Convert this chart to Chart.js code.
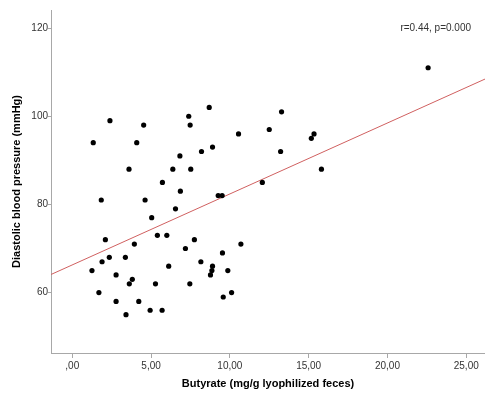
<!DOCTYPE html>
<html>
<head>
<meta charset="utf-8">
<script src="https://cdn.jsdelivr.net/npm/chart.js@4.4.1/dist/chart.umd.min.js"></script>
<style>
  html, body { margin: 0; padding: 0; background: #fff; }
  #wrap { width: 485px; height: 394px; }
</style>
</head>
<body>
<div id="wrap"><canvas id="c" width="485" height="394"></canvas></div>
<script>
// Butyrate (mg/g lyophilized feces) per subject
const butyrate = [
  1.25, 1.33, 1.69, 1.84, 1.89, 2.10, 2.35, 2.39, 2.78, 2.78,
  3.37, 3.41, 3.60, 3.62, 3.81, 3.94, 4.09, 4.22, 4.53, 4.62,
  4.94, 5.04, 5.28, 5.40, 5.70, 5.72, 6.00, 6.12, 6.38, 6.55,
  6.83, 6.86, 7.18, 7.39, 7.46, 7.48, 7.52, 7.75, 8.16, 8.20,
  8.69, 8.77, 8.86, 8.90, 8.90, 9.26, 9.51, 9.53, 9.58, 9.87,
  10.11, 10.55, 10.70, 12.06, 12.50, 13.22, 13.28, 15.17, 15.34, 15.81,
  22.58
];
// Diastolic blood pressure (mmHg) per subject
const diastolic = [
  65, 94, 60, 81, 67, 72, 68, 99, 64, 58,
  68, 55, 88, 62, 63, 71, 94, 58, 98, 81,
  56, 77, 62, 73, 56, 85, 73, 66, 88, 79,
  91, 83, 70, 100, 62, 98, 88, 72, 67, 92,
  102, 64, 65, 93, 66, 82, 82, 69, 59, 65,
  60, 96, 71, 85, 97, 92, 101, 95, 96, 88,
  111
];
const xTicks = [0, 5, 10, 15, 20, 25];
const yTicks = [60, 80, 100, 120];
const xRange = [-1.35, 26.19];
const yRange = [46.3, 124.1];
const statsLabel = 'r=0.44, p=0.000';

// least-squares fit line
const n = butyrate.length;
const mx = butyrate.reduce((a, b) => a + b, 0) / n;
const my = diastolic.reduce((a, b) => a + b, 0) / n;
let sxy = 0, sxx = 0;
for (let i = 0; i < n; i++) {
  sxy += (butyrate[i] - mx) * (diastolic[i] - my);
  sxx += (butyrate[i] - mx) ** 2;
}
const slope = sxy / sxx;
const intercept = my - slope * mx;
const fitLine = xRange.map(x => ({ x, y: intercept + slope * x }));

const points = butyrate.map((x, i) => ({ x, y: diastolic[i] }));
const commaFmt = v => {
  const s = Number(v).toFixed(2).replace('.', ',');
  return s.startsWith('0,') ? s.slice(1) : s;
};

const statsText = {
  id: 'statsText',
  afterDraw(chart) {
    const { ctx, chartArea } = chart;
    ctx.save();
    ctx.font = '10px "Liberation Sans", Arial, sans-serif';
    ctx.fillStyle = '#333';
    ctx.textAlign = 'right';
    ctx.textBaseline = 'middle';
    ctx.fillText(statsLabel, chartArea.right - 14, chartArea.top + 18);
    ctx.restore();
  }
};

const axisGray = '#a8a8a8';
new Chart(document.getElementById('c'), {
  type: 'scatter',
  data: {
    datasets: [
      {
        type: 'line',
        data: fitLine,
        borderColor: '#d06060',
        borderWidth: 1,
        pointRadius: 0,
        pointHoverRadius: 0,
        fill: false,
        order: 2
      },
      {
        data: points,
        backgroundColor: '#000',
        borderColor: '#000',
        pointRadius: 2.6,
        pointHoverRadius: 2.6,
        pointBorderWidth: 0,
        order: 1
      }
    ]
  },
  options: {
    responsive: false,
    animation: false,
    events: [],
    layout: { autoPadding: false, padding: { top: 10, right: 0, left: 0, bottom: 0 } },
    plugins: { legend: { display: false }, tooltip: { enabled: false } },
    scales: {
      x: {
        type: 'linear',
        min: xRange[0],
        max: xRange[1],
        afterBuildTicks: s => { s.ticks = xTicks.map(v => ({ value: v })); },
        afterFit: s => { s.height = 41; s.paddingLeft = 0; s.paddingRight = 0; },
        border: { display: true, color: axisGray, width: 1 },
        grid: { display: true, drawOnChartArea: false, drawTicks: true, tickLength: 5, color: axisGray },
        ticks: {
          padding: 2,
          color: '#333',
          font: { family: '"Liberation Sans", Arial, sans-serif', size: 10 },
          callback: v => commaFmt(v),
          maxRotation: 0
        },
        title: {
          display: true,
          text: 'Butyrate (mg/g lyophilized feces)',
          color: '#000',
          font: { family: '"Liberation Sans", Arial, sans-serif', size: 11, weight: 'bold' },
          padding: { top: 0, bottom: 3 }
        }
      },
      y: {
        type: 'linear',
        min: yRange[0],
        max: yRange[1],
        afterBuildTicks: s => { s.ticks = yTicks.map(v => ({ value: v })); },
        afterFit: s => { s.width = 51; s.paddingTop = 0; s.paddingBottom = 0; },
        border: { display: true, color: axisGray, width: 1 },
        grid: { display: true, drawOnChartArea: false, drawTicks: true, tickLength: 3, color: axisGray },
        ticks: {
          padding: 0,
          color: '#333',
          font: { family: '"Liberation Sans", Arial, sans-serif', size: 10 }
        },
        title: {
          display: true,
          text: 'Diastolic blood pressure (mmHg)',
          color: '#000',
          font: { family: '"Liberation Sans", Arial, sans-serif', size: 11, weight: 'bold' },
          padding: { top: 10, bottom: 0 }
        }
      }
    }
  },
  plugins: [statsText]
});
</script>
</body>
</html>
